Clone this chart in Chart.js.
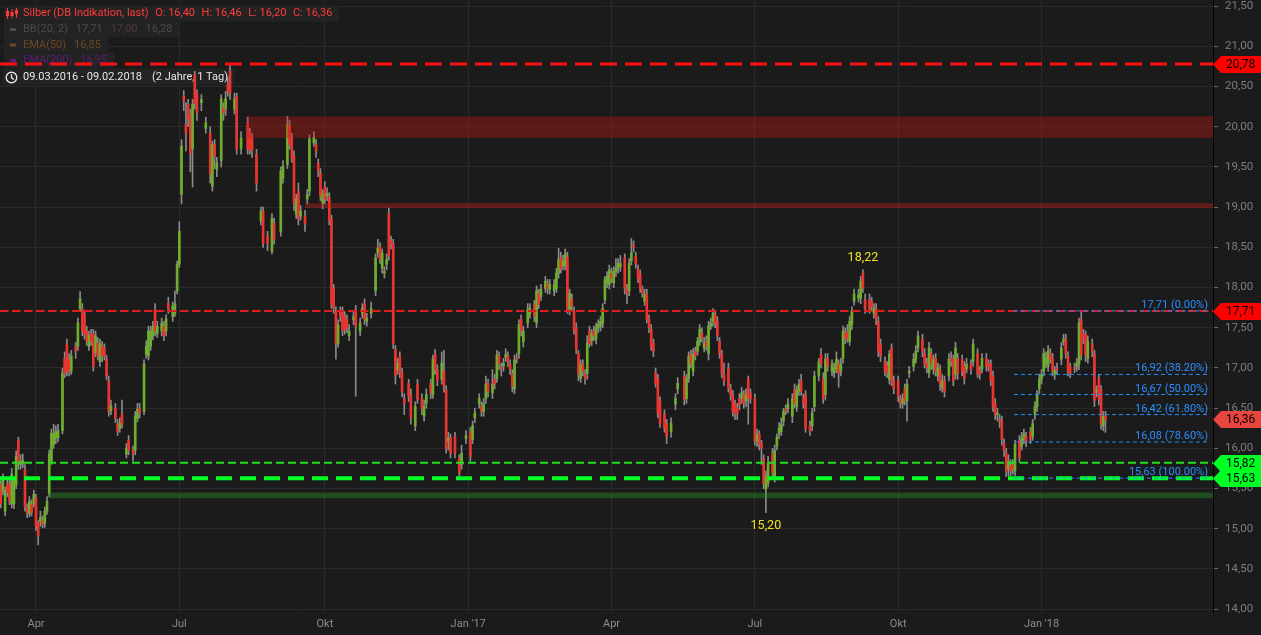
<!DOCTYPE html>
<html lang="de">
<head>
<meta charset="utf-8">
<title>Silber (DB Indikation, last)</title>
<script src="https://cdn.jsdelivr.net/npm/chart.js@4.4.1/dist/chart.umd.min.js"></script>
<style>
  html, body { margin: 0; padding: 0; background: #1b1b1b; overflow: hidden; }
  canvas { display: block; }
</style>
</head>
<body>
<canvas id="chart" width="1261" height="635"></canvas>
<script>
// trading session, counted from 09.03.2016 (= session 0)
const sessions = [
  1,2,3,4,5,6,7,8,9,10,
  11,12,13,14,15,16,17,18,19,20,
  21,22,23,24,25,26,27,29,30,31,
  32,33,35,36,37,38,39,40,41,42,
  43,44,45,46,47,48,49,50,51,53,
  54,55,56,58,59,61,62,63,64,66,
  67,68,69,70,71,72,74,75,76,77,
  79,80,81,82,83,84,85,86,87,88,
  89,90,92,94,96,97,98,99,101,102,
  103,104,105,107,108,110,113,114,115,117,
  119,120,122,124,125,128,129,131,132,133,
  134,135,136,137,139,140,141,143,144,145,
  146,147,148,149,150,151,152,153,154,155,
  156,157,158,159,161,162,164,165,166,167,
  169,171,172,173,174,175,176,177,178,179,
  180,181,182,183,184,186,187,189,190,192,
  193,194,196,197,198,199,201,202,203,204,
  205,207,209,210,212,214,215,216,218,219,
  220,221,222,224,225,226,227,228,229,230,
  231,232,233,234,235,236,237,238,240,241,
  243,244,245,246,248,249,250,252,253,254,
  255,256,257,258,259,260,261,262,263,264,
  265,266,267,268,269,270,271,272,273,274,
  275,276,277,278,279,280,281,282,284,285,
  286,287,288,289,290,291,292,293,294,295,
  296,297,298,299,300,302,303,305,307,308,
  311,312,313,314,315,316,317,318,319,320,
  321,322,323,324,325,326,327,328,329,331,
  332,333,334,335,336,337,338,339,340,341,
  343,344,345,346,347,348,349,351,352,353,
  354,355,356,357,358,360,361,362,363,364,
  365,366,368,369,370,372,373,374,375,376,
  378,379,380,381,382,383,384,385,386,387,
  388,390,391,392,393,395,396,397,398,399,
  400,402,403,404,405,406,408,409,410,411,
  412,413,415,416,417,419,420,421,422,423,
  424,425,426,427,428,429,431,432,433,434,
  435,437,438,439,441,442,444,445,446,448,
  449,450,451,452,453,454,455,456,457,458,
  459,460,461,463,464,465,466,468,469,470,
  471,472,473,474,475,476,477,478,479,480,
  482,483,484,485,486,488,489,490,491,492,
  493,494,496,497,498,499,500,501,502
];
const opens = [
  15.55,15.47,15.22,15.56,15.55,15.31,15.31,15.55,16.10,15.80,
  15.81,15.74,15.27,15.19,15.30,15.31,15.38,15.07,15.09,15.10,
  15.07,15.22,15.44,15.84,16.05,16.13,16.13,16.22,17.12,17.30,
  17.10,16.96,17.27,17.27,17.74,17.73,17.67,17.46,17.27,17.43,
  17.42,17.19,17.31,17.08,17.27,17.25,17.11,16.84,16.47,16.50,
  16.30,16.25,16.43,15.93,16.10,15.98,15.97,16.37,16.49,16.46,
  17.17,17.15,17.27,17.40,17.73,17.43,17.46,17.52,17.46,17.80,
  17.64,17.68,17.96,18.29,19.16,20.38,20.03,20.28,20.15,19.73,
  20.65,20.42,20.30,19.98,19.92,19.26,19.78,19.47,19.58,20.23,
  20.22,20.53,20.69,20.22,20.38,19.73,20.05,19.92,19.86,19.66,
  18.83,18.95,18.64,18.45,18.80,18.70,19.36,19.53,20.01,19.86,
  19.63,18.91,19.20,18.89,18.89,19.10,19.20,19.80,19.78,19.55,
  19.42,19.05,19.26,19.14,19.12,18.85,17.99,17.70,17.30,17.70,
  17.70,17.64,17.60,17.40,17.60,17.73,17.46,17.67,17.80,17.58,
  17.68,17.96,18.43,18.51,18.24,18.18,18.29,18.92,18.58,18.54,
  17.23,16.98,17.15,16.94,16.62,16.81,16.67,16.28,16.80,16.62,
  16.40,16.56,16.81,16.67,17.17,16.98,16.86,16.96,16.73,16.09,
  16.13,16.15,15.88,15.80,16.12,16.21,16.11,16.38,16.56,16.52,
  16.46,16.62,16.81,16.69,16.86,16.87,17.15,17.01,17.02,17.13,
  17.15,17.05,16.93,16.74,17.13,17.18,17.61,17.33,17.56,17.67,
  17.79,17.56,17.93,17.89,17.99,18.05,17.98,17.96,17.99,18.18,
  18.37,18.27,18.27,18.38,17.73,17.86,17.71,17.50,17.18,16.87,
  17.05,16.92,16.93,17.46,17.34,17.46,17.36,17.50,17.52,17.56,
  17.85,18.06,18.04,18.17,18.06,18.20,18.24,18.26,18.37,17.98,
  17.96,18.33,18.53,18.39,18.23,18.17,17.98,17.83,17.92,17.61,
  17.48,17.31,16.94,16.87,16.59,16.43,16.31,16.21,16.55,16.74,
  16.90,16.62,16.87,17.17,16.96,17.21,17.21,17.33,17.43,17.25,
  17.33,17.18,17.52,17.58,17.67,17.58,17.33,17.17,16.92,17.00,
  16.74,16.67,16.55,16.50,16.62,16.62,16.67,16.59,16.87,16.69,
  16.62,16.09,16.18,16.06,15.87,15.49,15.57,15.94,15.63,16.03,
  16.19,16.21,16.34,16.49,16.49,16.40,16.73,16.52,16.71,16.84,
  16.62,16.67,16.28,16.28,16.52,16.90,17.17,16.87,16.67,17.12,
  16.96,16.94,16.99,17.05,16.96,17.12,17.43,17.45,17.33,17.54,
  17.83,17.87,17.87,18.18,17.85,17.85,17.83,17.68,17.74,17.58,
  17.30,17.08,17.03,16.86,17.25,16.84,16.84,16.62,16.56,16.74,
  16.59,16.94,17.02,17.11,17.25,17.36,17.18,17.06,16.94,17.18,
  16.99,17.12,16.90,16.98,16.75,16.84,16.90,17.12,17.11,16.92,
  17.12,17.11,17.02,16.99,17.05,17.08,17.18,16.96,16.99,17.12,
  17.05,17.05,16.90,16.56,16.42,16.36,16.34,16.06,15.94,15.74,
  15.78,15.80,15.72,16.10,16.03,16.12,16.15,16.21,16.15,16.42,
  16.52,16.74,16.86,16.96,17.06,17.02,17.18,17.12,16.92,16.99,
  17.11,17.33,17.36,17.15,17.02,17.00,17.02,17.05,17.61,17.42,
  17.42,17.12,17.30,17.18,16.71,16.87,16.73,16.28,16.40
];
const highs = [
  15.60,15.68,15.52,15.62,15.60,15.75,15.64,15.97,16.14,15.92,
  15.93,15.80,15.31,15.40,15.36,15.48,15.43,15.10,15.22,15.16,
  15.27,15.40,15.98,16.24,16.30,16.28,16.30,17.00,17.20,17.36,
  17.18,17.22,17.32,17.62,17.95,17.80,17.72,17.52,17.46,17.48,
  17.48,17.46,17.38,17.36,17.33,17.30,17.16,16.90,16.60,16.56,
  16.36,16.38,16.60,16.06,16.16,16.03,16.46,16.56,16.56,17.10,
  17.34,17.52,17.52,17.58,17.80,17.58,17.62,17.58,17.66,17.88,
  17.82,17.96,18.33,18.82,19.84,20.45,20.30,20.34,20.22,20.34,
  20.69,20.46,20.40,20.12,20.00,19.82,19.84,19.62,20.40,20.30,
  20.44,20.62,20.78,20.42,20.42,19.94,20.12,19.98,19.92,19.72,
  19.00,19.00,18.70,18.92,18.86,19.50,19.58,20.13,20.08,19.92,
  19.70,19.16,19.30,19.02,18.96,19.22,19.90,19.94,19.84,19.60,
  19.48,19.22,19.32,19.24,19.18,18.90,18.04,17.76,17.60,17.76,
  17.76,17.70,17.66,17.54,17.70,17.78,17.62,17.80,17.86,17.68,
  17.82,18.42,18.60,18.56,18.48,18.26,18.42,18.99,18.64,18.60,
  17.28,17.12,17.20,17.00,16.68,16.86,16.74,16.58,16.86,16.68,
  16.60,16.74,16.86,17.16,17.23,17.04,17.20,17.22,16.78,16.20,
  16.18,16.20,15.92,16.04,16.22,16.26,16.34,16.50,16.68,16.58,
  16.62,16.90,16.86,16.98,16.92,17.22,17.20,17.06,17.12,17.24,
  17.20,17.10,16.98,17.16,17.18,17.60,17.66,17.52,17.80,17.80,
  17.84,18.02,17.98,18.04,18.14,18.10,18.10,18.10,18.24,18.49,
  18.44,18.40,18.48,18.44,17.98,17.92,17.76,17.56,17.22,17.10,
  17.10,16.98,17.40,17.52,17.48,17.52,17.56,17.60,17.64,17.80,
  18.14,18.20,18.28,18.24,18.26,18.36,18.36,18.40,18.42,18.04,
  18.36,18.61,18.58,18.44,18.28,18.22,18.02,17.98,17.98,17.66,
  17.54,17.36,17.00,16.92,16.64,16.48,16.36,16.38,16.68,16.88,
  16.96,16.92,17.20,17.22,17.24,17.26,17.38,17.54,17.50,17.38,
  17.40,17.58,17.62,17.74,17.72,17.64,17.38,17.22,17.06,17.06,
  16.80,16.72,16.60,16.56,16.68,16.76,16.72,16.74,16.90,16.74,
  16.68,16.24,16.22,16.10,15.92,15.72,15.90,16.00,16.04,16.18,
  16.32,16.38,16.50,16.54,16.62,16.68,16.80,16.78,16.86,16.92,
  16.68,16.72,16.34,16.50,16.96,17.12,17.24,16.94,17.18,17.18,
  17.10,17.06,17.20,17.10,17.12,17.52,17.50,17.54,17.64,17.76,
  17.98,17.98,18.14,18.22,17.92,17.92,17.88,17.80,17.80,17.64,
  17.36,17.14,17.08,17.22,17.30,16.90,16.90,16.66,16.68,16.80,
  16.86,17.02,17.18,17.28,17.46,17.42,17.24,17.12,17.32,17.24,
  17.16,17.18,17.06,17.04,16.92,16.90,17.18,17.20,17.16,17.32,
  17.18,17.16,17.08,17.12,17.10,17.36,17.24,17.02,17.18,17.18,
  17.10,17.10,16.96,16.62,16.50,16.42,16.40,16.12,16.00,15.92,
  15.86,15.86,16.10,16.16,16.20,16.24,16.20,16.26,16.36,16.58,
  16.72,16.92,16.98,17.24,17.20,17.28,17.24,17.18,17.02,17.06,
  17.32,17.42,17.42,17.20,17.06,17.06,17.12,17.62,17.71,17.48,
  17.46,17.40,17.36,17.22,16.78,16.92,16.78,16.46,16.46
];
const lows = [
  15.26,15.42,15.16,15.40,15.30,15.26,15.25,15.50,15.74,15.74,
  15.76,15.22,15.14,15.15,15.16,15.27,14.98,14.80,15.03,15.01,
  15.02,15.18,15.40,15.80,16.00,16.06,16.08,16.18,16.88,16.90,
  16.90,16.92,17.12,17.22,17.70,17.40,17.36,17.28,17.22,17.28,
  16.96,17.14,17.10,17.02,17.08,17.10,16.85,16.40,16.42,16.32,
  16.16,16.20,16.25,15.88,15.92,15.84,15.92,16.33,16.38,16.42,
  17.12,17.10,17.22,17.35,17.40,17.38,17.40,17.34,17.40,17.68,
  17.58,17.64,17.92,18.25,19.04,20.20,19.70,20.00,19.44,19.25,
  20.22,20.08,20.20,19.92,19.30,19.20,19.48,19.38,19.50,20.08,
  20.14,20.38,20.34,20.16,19.66,19.66,19.66,19.66,19.62,19.20,
  18.78,18.50,18.46,18.42,18.54,18.64,19.30,19.48,19.72,19.56,
  18.96,18.86,18.78,18.84,18.70,19.04,19.14,19.76,19.62,19.38,
  19.08,18.98,19.04,19.08,18.78,17.74,17.68,17.11,17.26,17.58,
  17.40,17.42,17.44,17.34,17.54,16.65,17.40,17.62,17.54,17.52,
  17.62,17.90,18.38,18.30,18.18,18.12,18.22,18.34,18.48,17.24,
  16.80,16.92,16.88,16.64,16.42,16.58,16.30,16.22,16.56,16.42,
  16.34,16.50,16.62,16.62,16.92,16.78,16.80,16.70,15.94,15.98,
  15.88,15.88,15.62,15.74,16.06,15.84,16.06,16.32,16.50,16.40,
  16.40,16.56,16.64,16.62,16.74,16.82,16.98,16.90,16.96,17.08,
  17.02,16.92,16.70,16.68,17.06,17.12,17.40,17.26,17.50,17.62,
  17.58,17.50,17.74,17.84,17.94,17.92,17.92,17.90,17.94,18.12,
  18.18,18.22,18.22,17.68,17.66,17.72,17.42,17.18,16.84,16.82,
  16.90,16.80,16.86,17.26,17.28,17.34,17.30,17.44,17.46,17.50,
  17.80,18.00,17.98,18.06,18.00,18.14,18.18,18.20,17.92,17.80,
  17.90,18.28,18.44,18.24,18.06,17.94,17.88,17.78,17.56,17.44,
  17.22,17.14,16.76,16.38,16.26,16.20,16.06,16.14,16.48,16.68,
  16.54,16.56,16.82,17.00,16.90,17.10,17.16,17.28,17.32,17.20,
  17.22,17.10,17.48,17.52,17.50,17.34,17.12,16.88,16.78,16.70,
  16.60,16.40,16.36,16.36,16.48,16.56,16.50,16.52,16.30,16.56,
  16.04,16.02,15.98,15.80,15.50,15.20,15.52,15.62,15.58,15.98,
  16.12,16.16,16.28,16.42,16.44,16.32,16.50,16.46,16.66,16.66,
  16.50,16.20,16.16,16.22,16.46,16.84,17.00,16.56,16.60,16.96,
  16.90,16.88,16.94,16.76,16.90,17.06,17.30,17.32,17.28,17.48,
  17.78,17.82,17.80,17.94,17.68,17.68,17.70,17.62,17.54,17.14,
  17.08,16.90,16.88,16.80,16.78,16.68,16.58,16.50,16.50,16.54,
  16.34,16.88,16.96,17.06,17.20,17.14,17.00,16.94,16.88,16.98,
  16.92,16.90,16.84,16.72,16.70,16.64,16.84,17.02,16.78,16.86,
  16.86,16.90,16.80,16.94,16.92,17.02,16.88,16.86,16.94,16.96,
  16.96,16.78,16.46,16.36,16.34,16.26,16.04,15.90,15.65,15.66,
  15.66,15.68,15.66,15.82,15.98,16.06,16.02,16.06,16.10,16.36,
  16.46,16.68,16.80,16.90,17.00,16.96,17.06,16.90,16.86,16.92,
  17.04,17.28,17.12,16.90,16.88,16.94,16.96,16.98,17.10,17.30,
  17.08,17.06,17.14,16.52,16.64,16.54,16.24,16.22,16.20
];
const closes = [
  15.31,15.62,15.47,15.45,15.34,15.68,15.59,15.90,15.81,15.84,
  15.85,15.28,15.19,15.34,15.20,15.43,15.03,14.91,15.14,15.06,
  15.22,15.34,15.93,16.19,16.18,16.21,16.22,16.94,16.93,16.96,
  16.96,17.15,17.21,17.56,17.86,17.46,17.42,17.33,17.40,17.33,
  17.02,17.40,17.15,17.30,17.15,17.15,16.90,16.46,16.53,16.37,
  16.21,16.31,16.30,16.00,15.98,15.93,16.40,16.49,16.44,17.05,
  17.27,17.46,17.46,17.52,17.46,17.52,17.56,17.40,17.61,17.73,
  17.77,17.80,18.29,18.70,19.76,20.32,19.92,20.10,19.67,20.28,
  20.29,20.17,20.34,20.05,19.41,19.78,19.63,19.55,20.35,20.17,
  20.35,20.44,20.41,20.35,19.72,19.86,19.72,19.72,19.70,19.30,
  18.95,18.55,18.55,18.86,18.60,19.45,19.51,20.03,19.78,19.61,
  19.04,19.10,18.85,18.95,18.79,19.16,19.85,19.87,19.70,19.45,
  19.14,19.17,19.10,19.17,18.83,17.79,17.74,17.31,17.54,17.64,
  17.46,17.48,17.50,17.46,17.64,17.52,17.56,17.74,17.60,17.62,
  17.74,18.37,18.49,18.35,18.43,18.20,18.35,18.39,18.54,17.30,
  16.90,17.06,16.94,16.71,16.56,16.65,16.38,16.52,16.61,16.49,
  16.52,16.67,16.69,17.11,16.98,16.84,17.06,16.77,16.00,16.13,
  15.94,15.94,15.69,15.94,16.16,15.90,16.28,16.44,16.62,16.46,
  16.56,16.80,16.71,16.80,16.80,17.16,17.05,16.99,17.06,17.17,
  17.08,16.98,16.77,17.10,17.12,17.54,17.46,17.46,17.73,17.74,
  17.64,17.96,17.79,17.98,18.08,17.99,18.04,18.04,18.18,18.35,
  18.23,18.33,18.42,17.73,17.93,17.77,17.48,17.23,16.93,17.05,
  16.96,16.87,17.31,17.30,17.43,17.40,17.50,17.54,17.58,17.74,
  18.10,18.14,18.22,18.12,18.20,18.24,18.30,18.30,17.99,17.93,
  18.30,18.43,18.50,18.29,18.12,17.99,17.93,17.92,17.61,17.50,
  17.27,17.21,16.81,16.44,16.31,16.25,16.15,16.31,16.62,16.81,
  16.61,16.87,17.15,17.05,17.17,17.15,17.33,17.48,17.37,17.31,
  17.27,17.52,17.56,17.68,17.56,17.40,17.18,16.93,16.84,16.75,
  16.67,16.46,16.43,16.43,16.54,16.69,16.56,16.67,16.62,16.62,
  16.09,16.18,16.05,16.00,15.56,15.65,15.82,15.69,15.97,16.14,
  16.25,16.30,16.46,16.47,16.55,16.62,16.56,16.73,16.80,16.71,
  16.56,16.25,16.21,16.44,16.90,17.08,17.05,16.62,17.11,17.02,
  17.05,17.00,17.11,16.94,17.05,17.46,17.36,17.37,17.58,17.71,
  17.92,17.91,18.08,17.99,17.73,17.74,17.76,17.74,17.61,17.21,
  17.15,16.96,16.93,17.17,16.84,16.74,16.65,16.56,16.62,16.59,
  16.80,16.96,17.11,17.21,17.40,17.21,17.05,17.00,17.25,17.05,
  17.11,16.96,17.00,16.80,16.84,16.71,17.11,17.08,16.84,17.25,
  16.93,16.96,16.87,17.05,16.98,17.30,16.93,16.92,17.12,17.02,
  17.02,16.84,16.52,16.42,16.44,16.34,16.11,15.97,15.72,15.84,
  15.72,15.74,16.05,15.88,16.13,16.18,16.09,16.12,16.31,16.52,
  16.67,16.86,16.92,17.18,17.12,17.21,17.11,16.96,16.97,16.98,
  17.25,17.36,17.18,16.96,16.93,16.99,17.06,17.56,17.17,17.37,
  17.15,17.33,17.21,16.59,16.73,16.61,16.30,16.40,16.36
];

// axis labels
const monthTicks = [17, 82, 148, 213, 278, 343, 408, 473];
const monthLabels = ['Apr', 'Jul', 'Okt', "Jan '17", 'Apr', 'Jul', 'Okt', "Jan '18"];
const priceTicks = [14, 14.5, 15, 15.5, 16, 16.5, 17, 17.5, 18, 18.5, 19, 19.5, 20, 20.5, 21, 21.5];

// horizontal levels across the whole chart
const levelPrices = [20.78, 17.71, 15.82, 15.63];
// zones: first session, lower and upper price
const zoneStarts = [112.5, 139, 22.6];
const zoneLows = [19.86, 18.99, 15.38];
const zoneHighs = [20.13, 19.05, 15.45];
// fibonacci retracement
const fibLevels = [17.71, 16.92, 16.67, 16.42, 16.08, 15.63];
const fibPercents = ['0.00', '38.20', '50.00', '61.80', '78.60', '100.00'];
const fibFrom = 460.5, fibTo = 549.4;
// price tags on the axis
const tagPrices = [20.78, 17.71, 16.36, 15.82, 15.63];
// marked extremes
const markSessions = [392, 348];
const markPrices = [18.22, 15.20];

const X_MIN = 0.674, X_MAX = 550.77;
const Y_MIN = 13.965, Y_MAX = 21.577;
const FONT = 'Roboto, "Liberation Sans", sans-serif';
const GREEN = '#6fae2d', RED = '#e8352f';
const fmt = v => v.toFixed(2).replace('.', ',');

const wickData = sessions.map((s, i) => ({ x: s, y: [lows[i], highs[i]] }));
const bodyData = sessions.map((s, i) => ({ x: s, y: [opens[i], closes[i]] }));
const bodyColors = sessions.map((s, i) => closes[i] >= opens[i] ? GREEN : RED);

const levelStyles = [
  { color: '#ff1010', width: 3, dash: [17, 8] },
  { color: '#dc1e1e', width: 2, dash: [8.5, 3.5] },
  { color: '#22dd22', width: 2, dash: [8, 4] },
  { color: '#00ff22', width: 4, dash: [16, 8] }
];
const levelSets = levelPrices.map((p, k) => ({
  type: 'line',
  data: [{ x: X_MIN, y: p }, { x: X_MAX, y: p }],
  borderColor: levelStyles[k].color,
  borderWidth: levelStyles[k].width,
  borderDash: levelStyles[k].dash,
  pointRadius: 0, fill: false, order: 0
}));
const fibSets = fibLevels.map(p => ({
  type: 'line',
  data: [{ x: fibFrom, y: p }, { x: fibTo, y: p }],
  borderColor: '#1e90ff', borderWidth: 1, borderDash: [4, 3],
  pointRadius: 0, fill: false, order: -1
}));

function drawLegend(ctx) {
  const last = sessions.length - 1;
  ctx.save();
  ctx.font = '11px ' + FONT;
  ctx.textBaseline = 'middle';

  function row(x0, top, h, yc, parts, gap, textX) {
    let x = textX;
    const pos = parts.map(p => { const px = x; x += ctx.measureText(p[0]).width + gap; return px; });
    ctx.fillStyle = '#232323';
    ctx.fillRect(x0, top, x - gap + 7 - x0, h);
    parts.forEach((p, k) => { ctx.fillStyle = p[1]; ctx.fillText(p[0], pos[k], yc); });
  }

  const red = '#ff3b3b';
  row(4, 6, 15.5, 13.5, [
    ['Silber (DB Indikation, last)', red],
    ['O: ' + fmt(opens[last]), red],
    ['H: ' + fmt(highs[last]), red],
    ['L: ' + fmt(lows[last]), red],
    ['C: ' + fmt(closes[last]), red]
  ], 6.5, 23);
  // candle icon
  ctx.fillStyle = red; ctx.strokeStyle = red; ctx.lineWidth = 1;
  [[7.5, 8, 19, 11, 5], [12, 9, 18, 12, 4], [16.5, 8, 18, 10, 4]].forEach(c => {
    ctx.beginPath(); ctx.moveTo(c[0], c[1]); ctx.lineTo(c[0], c[2]); ctx.stroke();
    ctx.fillRect(c[0] - 1.5, c[3], 3, c[4]);
  });

  const grey = '#4b4b4b';
  row(4, 21.5, 15.5, 29.5, [['BB(20, 2)', grey], ['17,71', grey], ['17,00', '#4d3644'], ['16,28', grey]], 8, 23);
  ctx.fillStyle = grey; ctx.fillRect(10, 28, 6, 3);

  const brown = '#6b4826';
  row(4, 37, 15.5, 45, [['EMA(50)', brown], ['16,85', brown]], 8, 23);
  ctx.fillStyle = brown; ctx.fillRect(10, 43.5, 6, 3);

  const purple = '#5b1d78';
  row(4, 52.5, 15.5, 60.5, [['EMA(200)', purple], ['16,95', purple]], 8, 23);
  ctx.fillStyle = purple; ctx.fillRect(10, 59, 6, 3);

  const white = '#e6e6e6';
  row(3, 68.5, 17, 77.5, [['09.03.2016 - 09.02.2018', white], ['(2 Jahre, 1 Tag)', white]], 10, 23);
  ctx.strokeStyle = white; ctx.lineWidth = 1.4;
  ctx.beginPath(); ctx.arc(11.5, 77.5, 5.3, 0, Math.PI * 2); ctx.stroke();
  ctx.beginPath(); ctx.moveTo(11.5, 74.3); ctx.lineTo(11.5, 77.8); ctx.lineTo(14, 79.5); ctx.stroke();
  ctx.restore();
}

const decor = {
  id: 'decor',
  beforeDraw(chart) {
    const { ctx, width, height } = chart;
    ctx.save();
    ctx.fillStyle = '#1b1b1b';
    ctx.fillRect(0, 0, width, height);
    ctx.restore();
  },
  beforeDatasetsDraw(chart) {
    drawLegend(chart.ctx);
  },
  afterDatasetsDraw(chart) {
    const { ctx, chartArea: a, scales: { x, y } } = chart;
    ctx.save();
    ctx.beginPath(); ctx.rect(a.left, a.top, a.right - a.left, a.bottom - a.top); ctx.clip();
    const zoneFill = ['rgba(200,22,14,0.36)', 'rgba(200,30,20,0.40)', 'rgba(40,160,40,0.38)'];
    zoneStarts.forEach((s, k) => {
      const x0 = x.getPixelForValue(s);
      const y0 = y.getPixelForValue(zoneHighs[k]);
      const y1 = y.getPixelForValue(zoneLows[k]);
      ctx.fillStyle = zoneFill[k];
      ctx.fillRect(x0, y0, a.right - x0, y1 - y0);
    });
    // fibonacci labels
    ctx.font = '11px ' + FONT;
    ctx.fillStyle = '#2a8eff';
    ctx.textAlign = 'right';
    ctx.textBaseline = 'alphabetic';
    fibLevels.forEach((p, k) => {
      ctx.fillText(fmt(p) + ' (' + fibPercents[k] + '%)', x.getPixelForValue(fibTo) - 2, y.getPixelForValue(p) - 3);
    });
    // extreme marks
    ctx.font = '12.5px ' + FONT;
    ctx.fillStyle = '#eee21e';
    ctx.textAlign = 'center';
    ctx.textBaseline = 'middle';
    markSessions.forEach((s, k) => {
      const above = k === 0;
      ctx.fillText(fmt(markPrices[k]), x.getPixelForValue(s), y.getPixelForValue(markPrices[k]) + (above ? -12 : 13));
    });
    ctx.restore();
  },
  afterDraw(chart) {
    const { ctx, chartArea: a, scales: { y } } = chart;
    const tagColors = ['#ff0000', '#ff0000', '#e8453f', '#00ff22', '#00ff22'];
    ctx.save();
    ctx.font = '12px ' + FONT;
    ctx.textBaseline = 'middle';
    ctx.textAlign = 'left';
    tagPrices.forEach((p, k) => {
      const yc = Math.round(y.getPixelForValue(p)) + 0.5;
      const x0 = a.right, h = 8.5;
      ctx.fillStyle = tagColors[k];
      ctx.beginPath();
      ctx.moveTo(x0, yc);
      ctx.lineTo(x0 + 8, yc - h);
      ctx.lineTo(chart.width, yc - h);
      ctx.lineTo(chart.width, yc + h);
      ctx.lineTo(x0 + 8, yc + h);
      ctx.closePath();
      ctx.fill();
      ctx.fillStyle = '#000';
      ctx.fillText(fmt(p), x0 + 13, yc + 0.5);
    });
    ctx.restore();
  }
};

Chart.defaults.font.family = FONT;

new Chart(document.getElementById('chart'), {
  type: 'bar',
  data: {
    datasets: [
      { type: 'bar', data: wickData, backgroundColor: '#8a8a8a', barThickness: 1, grouped: false, borderWidth: 0, order: 2 },
      { type: 'bar', data: bodyData, backgroundColor: bodyColors, barThickness: 2, grouped: false, borderWidth: 0, minBarLength: 1, order: 1 },
      ...levelSets,
      ...fibSets
    ]
  },
  options: {
    responsive: false,
    animation: false,
    events: [],
    layout: { padding: 0, autoPadding: false },
    plugins: { legend: { display: false }, tooltip: { enabled: false } },
    scales: {
      x: {
        type: 'linear', min: X_MIN, max: X_MAX, offset: false,
        grid: { color: '#2a2a2a', drawTicks: false, offset: false },
        border: { display: false },
        afterBuildTicks: s => { s.ticks = monthTicks.map(v => ({ value: v })); },
        afterFit: s => { s.height = 23; s.paddingLeft = 0; s.paddingRight = 0; },
        ticks: {
          color: '#8c8c8c', font: { size: 11 }, padding: 6, maxRotation: 0, autoSkip: false,
          callback: v => { const i = monthTicks.indexOf(v); return i >= 0 ? monthLabels[i] : ''; }
        }
      },
      y: {
        position: 'right', min: Y_MIN, max: Y_MAX,
        grid: { color: '#2a2a2a', tickColor: '#6a6a6a', tickLength: 5 },
        border: { display: true, color: '#000', width: 1 },
        afterBuildTicks: s => { s.ticks = priceTicks.map(v => ({ value: v })); },
        afterFit: s => { s.width = 48; s.paddingTop = 0; s.paddingBottom = 0; },
        ticks: { color: '#7d7d7d', font: { size: 11.5 }, padding: 7, callback: v => fmt(v) }
      }
    }
  },
  plugins: [decor]
});
</script>
</body>
</html>
